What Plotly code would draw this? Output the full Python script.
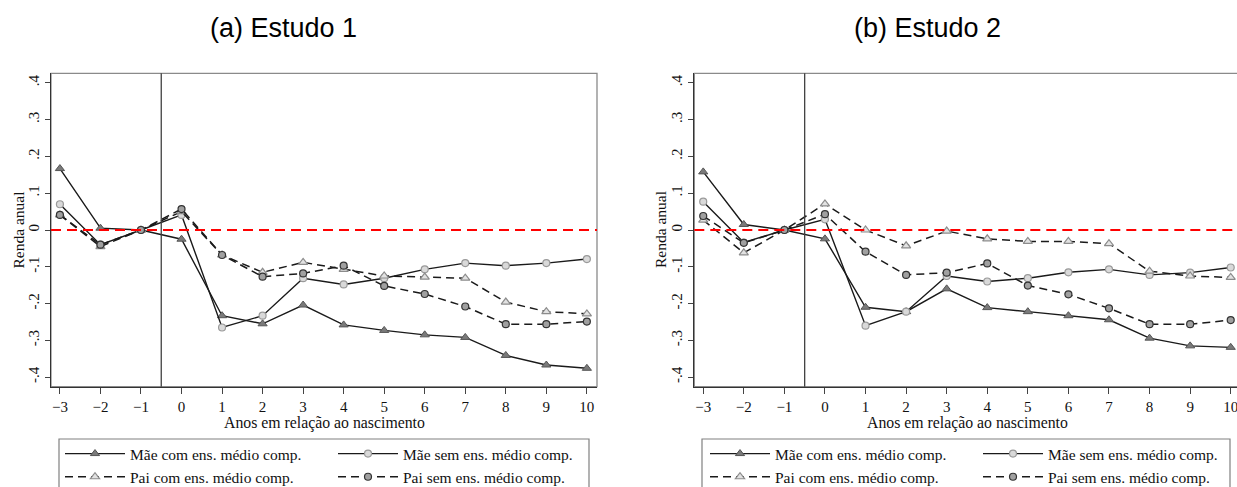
import plotly.graph_objects as go

W, H = 1237, 487

years = [-3, -2, -1, 0, 1, 2, 3, 4, 5, 6, 7, 8, 9, 10]
y_tickvals = [-0.4, -0.3, -0.2, -0.1, 0, 0.1, 0.2, 0.3, 0.4]
y_ticktext = ["-.4", "-.3", "-.2", "-.1", "0", ".1", ".2", ".3", ".4"]

series_names = ["Mãe com ens. médio comp.", "Mãe sem ens. médio comp.",
                "Pai com ens. médio comp.", "Pai sem ens. médio comp."]

# Estudo 1
a_mae_com = [0.167, 0.005, 0.0, -0.025, -0.233, -0.255, -0.204, -0.258, -0.273, -0.285, -0.292, -0.341, -0.367, -0.376]
a_mae_sem = [0.070, -0.040, 0.0, 0.041, -0.265, -0.233, -0.131, -0.148, -0.131, -0.107, -0.090, -0.097, -0.090, -0.079]
a_pai_com = [0.041, -0.045, 0.0, 0.050, -0.068, -0.115, -0.088, -0.107, -0.125, -0.128, -0.131, -0.196, -0.222, -0.228]
a_pai_sem = [0.041, -0.040, 0.0, 0.057, -0.068, -0.127, -0.118, -0.097, -0.152, -0.174, -0.208, -0.256, -0.256, -0.249]

# Estudo 2
b_mae_com = [0.158, 0.015, 0.0, -0.024, -0.210, -0.222, -0.160, -0.211, -0.222, -0.233, -0.244, -0.294, -0.315, -0.319]
b_mae_sem = [0.077, -0.034, 0.0, 0.029, -0.260, -0.222, -0.125, -0.140, -0.131, -0.115, -0.107, -0.122, -0.116, -0.102]
b_pai_com = [0.027, -0.062, 0.0, 0.071, 0.000, -0.043, -0.003, -0.024, -0.031, -0.031, -0.037, -0.112, -0.125, -0.129]
b_pai_sem = [0.038, -0.035, 0.0, 0.043, -0.059, -0.122, -0.116, -0.091, -0.151, -0.175, -0.213, -0.256, -0.256, -0.245]

SERIF = "Liberation Serif, Times New Roman, Times, serif"
SANS = "Liberation Sans, Arial, sans-serif"

styles = [
    dict(line=dict(color="#1a1a1a", width=1.4),
         marker=dict(symbol="triangle-up", size=8, color="#7a7a7a", line=dict(color="#555555", width=1))),
    dict(line=dict(color="#1a1a1a", width=1.4),
         marker=dict(symbol="circle", size=7, color="#d9d9d9", line=dict(color="#9a9a9a", width=1.2))),
    dict(line=dict(color="#1a1a1a", width=1.5, dash="8px,5px"),
         marker=dict(symbol="triangle-up", size=8, color="#e2e2e2", line=dict(color="#8c8c8c", width=1.2))),
    dict(line=dict(color="#1a1a1a", width=1.5, dash="8px,5px"),
         marker=dict(symbol="circle", size=7, color="#a0a0a0", line=dict(color="#333333", width=1.2))),
]

fig = go.Figure()

panels = [
    ("x", "y", [a_mae_com, a_mae_sem, a_pai_com, a_pai_sem], ["legend", "legend2", "legend", "legend2"]),
    ("x2", "y2", [b_mae_com, b_mae_sem, b_pai_com, b_pai_sem], ["legend3", "legend4", "legend3", "legend4"]),
]
for xa, ya, data, legs in panels:
    for i, vals in enumerate(data):
        fig.add_trace(go.Scatter(
            x=years, y=vals, mode="lines+markers", name=series_names[i],
            xaxis=xa, yaxis=ya, legend=legs[i], hoverinfo="skip",
            line=styles[i]["line"], marker=styles[i]["marker"],
        ))

def px(x):
    return x / W

def py(y):
    return 1 - y / H

tickfont = dict(family=SERIF, size=15, color="#111111")
xcommon = dict(tickvals=years, ticks="outside", ticklen=6, tickwidth=1, tickcolor="#444444",
               showgrid=False, zeroline=False, showline=True, linecolor="#333333", linewidth=1.3,
               tickfont=tickfont, fixedrange=True, ticklabeloverflow="allow")
ycommon = dict(range=[-0.426, 0.426], tickvals=y_tickvals, ticktext=y_ticktext, tickangle=-90,
               ticks="outside", ticklen=5, tickwidth=1, tickcolor="#444444",
               showgrid=False, zeroline=False, showline=True, linecolor="#333333", linewidth=1.3,
               tickfont=tickfont, fixedrange=True)

ydom = [py(386.7), py(73.3)]
fig.update_layout(
    width=W, height=H,
    margin=dict(l=0, r=0, t=0, b=0, autoexpand=False),
    paper_bgcolor="white", plot_bgcolor="white",
    xaxis=dict(domain=[px(51), px(597)], range=[-3.22, 10.25], anchor="y", **xcommon),
    yaxis=dict(domain=ydom, anchor="x", **ycommon),
    xaxis2=dict(domain=[px(694.3), 1.0], range=[-3.22, 10.155], anchor="y2", **xcommon),
    yaxis2=dict(domain=ydom, anchor="x2", **ycommon),
    hovermode=False,
)

legfont = dict(family=SERIF, size=15.5, color="#111111")
legcommon = dict(orientation="v", xanchor="left", yanchor="top", itemwidth=60,
                 font=legfont, bgcolor="rgba(0,0,0,0)", borderwidth=0, itemclick=False,
                 itemdoubleclick=False)
legy = py(437)
fig.update_layout(
    legend=dict(x=px(60), y=legy, **legcommon),
    legend2=dict(x=px(333), y=legy, **legcommon),
    legend3=dict(x=px(705), y=legy, **legcommon),
    legend4=dict(x=px(978), y=legy, **legcommon),
)

shapes = []
# plot frames (lighter)
shapes.append(dict(type="rect", xref="paper", yref="paper", x0=px(51), x1=px(597), y0=ydom[0], y1=ydom[1],
                   line=dict(color="#8a8a8a", width=1.3), layer="below"))
shapes.append(dict(type="rect", xref="paper", yref="paper", x0=px(694.3), x1=px(1241), y0=ydom[0], y1=ydom[1],
                   line=dict(color="#8a8a8a", width=1.3), layer="below"))
# legend boxes
shapes.append(dict(type="rect", xref="paper", yref="paper", x0=px(59), x1=px(589), y0=-0.05, y1=py(439),
                   line=dict(color="#808080", width=1.2)))
shapes.append(dict(type="rect", xref="paper", yref="paper", x0=px(702), x1=px(1230), y0=-0.05, y1=py(439),
                   line=dict(color="#808080", width=1.2)))
for xr, yr in [("x", "y"), ("x2", "y2")]:
    shapes.append(dict(type="line", xref=f"{xr} domain", yref=yr, x0=0, x1=1, y0=0, y1=0,
                       line=dict(color="#ff0000", width=1.8, dash="10px,6px")))
    shapes.append(dict(type="line", xref=xr, yref=f"{yr} domain", x0=-0.5, x1=-0.5, y0=0, y1=1,
                       line=dict(color="#404040", width=1.3)))
fig.update_layout(shapes=shapes)

annotations = [
    dict(text="(a) Estudo 1", x=px(283.5), y=py(28), xref="paper", yref="paper", showarrow=False,
         xanchor="center", yanchor="middle", font=dict(family=SANS, size=27, color="#000000")),
    dict(text="(b) Estudo 2", x=px(927), y=py(28), xref="paper", yref="paper", showarrow=False,
         xanchor="center", yanchor="middle", font=dict(family=SANS, size=27, color="#000000")),
    dict(text="Anos em relação ao nascimento", x=px(324), y=py(423), xref="paper", yref="paper",
         showarrow=False, xanchor="center", yanchor="middle", font=dict(family=SERIF, size=15.8, color="#111111")),
    dict(text="Anos em relação ao nascimento", x=px(967.5), y=py(423), xref="paper", yref="paper",
         showarrow=False, xanchor="center", yanchor="middle", font=dict(family=SERIF, size=15.8, color="#111111")),
    dict(text="Renda anual", x=px(17.5), y=py(230), xref="paper", yref="paper", textangle=-90,
         showarrow=False, xanchor="center", yanchor="middle", font=dict(family=SERIF, size=15.5, color="#111111")),
    dict(text="Renda anual", x=px(660), y=py(230), xref="paper", yref="paper", textangle=-90,
         showarrow=False, xanchor="center", yanchor="middle", font=dict(family=SERIF, size=15.5, color="#111111")),
]
fig.update_layout(annotations=annotations)

fig.write_html("out.html", config={"displayModeBar": False})
